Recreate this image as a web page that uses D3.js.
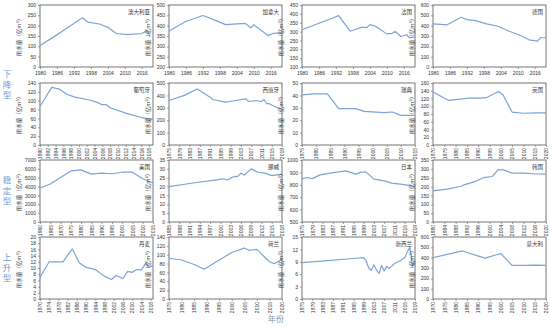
<!DOCTYPE html>
<html>
<head>
<meta charset="utf-8">
<script src="https://cdn.jsdelivr.net/npm/d3@7"></script>
<style>
  body { margin: 0; background: #fff; }
  svg text { font-family: "Liberation Sans", Arial, sans-serif; }
  .cjk { font-family: "Noto Sans CJK SC", sans-serif; }
</style>
</head>
<body>
<svg id="chart" width="550" height="327"></svg>
<script>
// water use series (亿m³), one pair of arrays per country
const auYears = [1980, 1985, 1990, 1995, 1997, 2001, 2004, 2007, 2011, 2016, 2018, 2019];
const auUse   = [104, 147, 192, 238, 217, 208, 192, 162, 157, 162, 176, 145];
const caYears = [1980, 1986, 1987, 1992, 1996, 2000, 2007, 2009, 2010, 2015, 2017, 2020];
const caUse   = [373, 421, 425, 449, 428, 405, 411, 389, 405, 352, 363, 364];
const frYears = [1980, 1986, 1990, 1993, 1997, 2001, 2003, 2004, 2006, 2010, 2012, 2013, 2015, 2017, 2018, 2020];
const frUse   = [310, 347, 371, 390, 302, 324, 324, 339, 330, 287, 290, 300, 272, 282, 265, 270];
const deYears = [1980, 1985, 1990, 1992, 1995, 1999, 2003, 2007, 2011, 2014, 2017, 2018, 2020];
const deUse   = [417, 408, 481, 458, 449, 417, 394, 346, 305, 263, 250, 283, 283];

const ptYears = [1990, 1993, 1995, 1997, 1999, 2003, 2005, 2006, 2007, 2008, 2012, 2016, 2019];
const ptUse   = [87, 130, 126, 114, 108, 101, 95, 91, 91, 84, 72, 62, 58];
const esYears = [1975, 1981, 1986, 1991, 1992, 1997, 2001, 2005, 2006, 2009, 2011, 2012, 2013, 2014, 2018, 2019];
const esUse   = [359, 400, 452, 386, 367, 346, 359, 372, 351, 359, 351, 367, 333, 333, 293, 288];
const seYears = [1975, 1979, 1984, 1988, 1994, 1997, 2004, 2007, 2010, 2015];
const seUse   = [40.4, 41.2, 41.2, 29.3, 29.3, 27.1, 26.1, 26.6, 23.9, 23.9];
const ukYears = [1970, 1977, 1983, 1986, 1991, 1994, 1999, 2001, 2005, 2010, 2016, 2020];
const ukUse   = [137, 115, 119, 121, 121, 123, 138, 129, 85, 82, 83, 83];

const usYears = [1960, 1965, 1970, 1975, 1980, 1985, 1990, 1995, 2000, 2005, 2010, 2015];
const usUse   = [3840, 4290, 5020, 5770, 5880, 5400, 5510, 5450, 5620, 5620, 4880, 4400];
const noYears = [1985, 1992, 1999, 2001, 2002, 2004, 2005, 2006, 2007, 2009, 2011, 2013, 2015, 2016, 2018];
const noUse   = [20, 22, 23.8, 24.4, 23.7, 25.7, 25.6, 27.6, 26.5, 30, 28.1, 27.6, 26.2, 26.5, 27];
const jpYears = [1975, 1977, 1979, 1982, 1986, 1992, 1996, 1998, 2000, 2003, 2007, 2010, 2014, 2019];
const jpUse   = [848, 859, 850, 880, 894, 912, 886, 902, 902, 846, 832, 814, 803, 787];
const krYears = [1980, 1985, 1990, 1991, 1995, 1998, 2001, 2003, 2005, 2008, 2012, 2017, 2020];
const krUse   = [176, 186, 202, 210, 229, 251, 257, 294, 294, 276, 276, 271, 270];

const dkYears = [1970, 1974, 1980, 1984, 1987, 1990, 1994, 1998, 2001, 2003, 2006, 2008, 2010, 2012, 2014, 2016, 2017, 2019];
const dkUse   = [7, 12, 12, 16.2, 11.7, 10.2, 9.5, 7.3, 6.3, 7.6, 6.6, 8.9, 8.6, 9.5, 9.4, 11.7, 10.2, 10.8];
const nlYears = [1975, 1980, 1985, 1989, 1995, 2000, 2005, 2007, 2010, 2015, 2017, 2020];
const nlUse   = [92, 88, 78, 67, 88, 105, 115, 110, 112, 84, 80, 90];
const nzYears = [1975, 1985, 1995, 1999, 2000, 2001, 2002, 2003, 2004, 2005, 2006, 2007, 2008, 2009, 2011, 2013, 2015, 2016, 2017, 2018, 2019];
const nzUse   = [8.8, 9.3, 9.8, 10, 9.2, 7.5, 6.9, 8.3, 7.0, 6.2, 8.1, 6.8, 7.9, 7.4, 8.6, 9.2, 10, 11.4, 12.5, 7.8, 9.5];
const itYears = [1970, 1983, 1993, 2000, 2005, 2010, 2015, 2020];
const itUse   = [400, 465, 395, 440, 325, 325, 327, 325];

// panel settings: name, series, year range, year tick step, value axis [min, max, step]
const panels = [
  {name: '澳大利亚', years: auYears, use: auUse, xr: [1980, 2020], xs: 6, yr: [0, 300, 50]},
  {name: '加拿大',   years: caYears, use: caUse, xr: [1980, 2020], xs: 6, yr: [200, 500, 50]},
  {name: '法国',     years: frYears, use: frUse, xr: [1980, 2020], xs: 6, yr: [100, 450, 50]},
  {name: '德国',     years: deYears, use: deUse, xr: [1980, 2020], xs: 6, yr: [0, 600, 100]},
  {name: '葡萄牙',   years: ptYears, use: ptUse, xr: [1990, 2019], xs: 2, yr: [0, 140, 20]},
  {name: '西班牙',   years: esYears, use: esUse, xr: [1975, 2019], xs: 4, yr: [0, 500, 100]},
  {name: '瑞典',     years: seYears, use: seUse, xr: [1975, 2015], xs: 5, yr: [0, 50, 10]},
  {name: '英国',     years: ukYears, use: ukUse, xr: [1970, 2020], xs: 5, yr: [0, 160, 20]},
  {name: '美国',     years: usYears, use: usUse, xr: [1960, 2015], xs: 5, yr: [0, 7000, 1000]},
  {name: '挪威',     years: noYears, use: noUse, xr: [1985, 2018], xs: 3, yr: [0, 35, 5]},
  {name: '日本',     years: jpYears, use: jpUse, xr: [1975, 2019], xs: 4, yr: [500, 1000, 100]},
  {name: '韩国',     years: krYears, use: krUse, xr: [1980, 2020], xs: 4, yr: [0, 350, 50]},
  {name: '丹麦',     years: dkYears, use: dkUse, xr: [1970, 2019], xs: 4, yr: [0, 20, 2]},
  {name: '荷兰',     years: nlYears, use: nlUse, xr: [1975, 2020], xs: 5, yr: [0, 140, 20]},
  {name: '新西兰',   years: nzYears, use: nzUse, xr: [1975, 2019], xs: 4, yr: [0, 15, 3]},
  {name: '意大利',   years: itYears, use: itUse, xr: [1970, 2020], xs: 5, yr: [0, 600, 100]}
];

const groups = [
  {label: '下降型', rows: [0, 1]},
  {label: '稳定型', rows: [2, 2]},
  {label: '上升型', rows: [3, 3]}
];

// grid geometry
const colLeft = [40, 169, 302, 433];
const panelW = 113;
const rowTop = [5, 83, 160, 237];
const panelH = 62;

const lineColor = '#7ba4d9';
const labelColor = '#6f9bd0';

const svg = d3.select('#chart');

panels.forEach((p, i) => {
  const row = Math.floor(i / 4), col = i % 4;
  const g = svg.append('g')
    .attr('transform', `translate(${colLeft[col]},${rowTop[row]})`);

  const x = d3.scaleLinear().domain(p.xr).range([0, panelW]);
  const y = d3.scaleLinear().domain([p.yr[0], p.yr[1]]).range([panelH, 0]);

  const yTicks = d3.range(p.yr[0], p.yr[1] + p.yr[2] / 2, p.yr[2]);
  const xTicks = d3.range(p.xr[0], p.xr[1] + 0.5, p.xs).filter(v => v <= p.xr[1] - (row === 0 ? 3 : 0));

  // value axis
  const yAxis = g.append('g')
    .call(d3.axisLeft(y).tickValues(yTicks).tickSize(2).tickPadding(2).tickFormat(d3.format('d')));
  yAxis.select('.domain').remove();
  yAxis.selectAll('line').attr('stroke', '#666').attr('stroke-width', 0.6);
  yAxis.selectAll('text').attr('font-size', 5).attr('fill', '#333');

  // year axis
  const xAxis = g.append('g')
    .attr('transform', `translate(0,${panelH})`)
    .call(d3.axisBottom(x).tickValues(xTicks).tickSize(2).tickPadding(2).tickFormat(d3.format('d')));
  xAxis.select('.domain').remove();
  xAxis.selectAll('line').attr('stroke', '#666').attr('stroke-width', 0.6);
  xAxis.selectAll('text').attr('font-size', 5).attr('fill', '#333');
  if (row > 0) {
    xAxis.selectAll('text')
      .attr('transform', 'rotate(-90)')
      .attr('text-anchor', 'end')
      .attr('x', -3)
      .attr('y', 0)
      .attr('dy', '0.35em');
  }

  // frame
  g.append('rect')
    .attr('width', panelW)
    .attr('height', panelH)
    .attr('fill', 'none')
    .attr('stroke', '#666')
    .attr('stroke-width', 0.9);

  // series line
  const pts = p.years.map((yr, k) => [yr, p.use[k]]);
  g.append('path')
    .datum(pts)
    .attr('fill', 'none')
    .attr('stroke', lineColor)
    .attr('stroke-width', 1.2)
    .attr('stroke-linejoin', 'round')
    .attr('d', d3.line().x(d => x(d[0])).y(d => y(d[1])));

  // country name
  g.append('text')
    .attr('class', 'cjk')
    .attr('x', panelW - 3)
    .attr('y', 9)
    .attr('text-anchor', 'end')
    .attr('font-size', 5.5)
    .attr('fill', '#333')
    .text(p.name);

  // value axis title
  g.append('text')
    .attr('class', 'cjk')
    .attr('transform', `translate(-19,${panelH / 2}) rotate(-90)`)
    .attr('text-anchor', 'middle')
    .attr('font-size', 5.5)
    .attr('fill', '#444')
    .text('用水量（亿m³）');
});

// group labels on the left, one character per line
groups.forEach(gr => {
  const top = rowTop[gr.rows[0]];
  const bottom = rowTop[gr.rows[1]] + panelH;
  const mid = gr.rows[0] === gr.rows[1] ? (top + bottom) / 2 : 85;
  const chars = gr.label.split('');
  chars.forEach((c, k) => {
    svg.append('text')
      .attr('class', 'cjk')
      .attr('x', 7)
      .attr('y', mid + (k - (chars.length - 1) / 2) * 10.5)
      .attr('dy', '0.35em')
      .attr('text-anchor', 'middle')
      .attr('font-size', 8.5)
      .attr('fill', labelColor)
      .text(c);
  });
});

svg.append('text')
  .attr('class', 'cjk')
  .attr('x', 276)
  .attr('y', 322)
  .attr('text-anchor', 'middle')
  .attr('font-size', 8)
  .attr('fill', '#7f93b0')
  .text('年份');
</script>
</body>
</html>
